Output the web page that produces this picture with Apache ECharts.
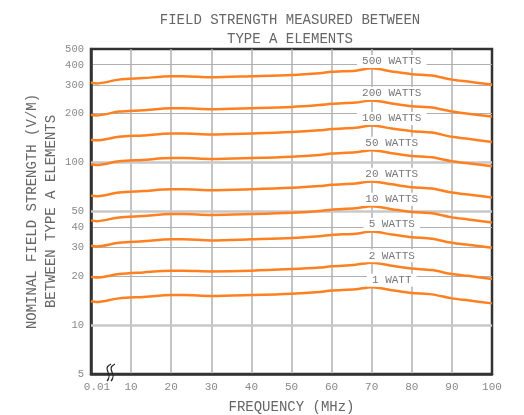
<!DOCTYPE html>
<html><head><meta charset="utf-8">
<script src="https://cdn.jsdelivr.net/npm/echarts@6/dist/echarts.min.js"></script>
<style>html,body{margin:0;padding:0;background:#fff}#c{width:524px;height:415px}</style>
</head><body><div id="c"></div>
<script>
// Frequency points (MHz); x = 0 is labelled "0.01" (broken axis)
const freq = [0, 1.3, 7, 13, 20, 23, 30, 40, 50, 57, 60, 66, 70, 75, 80, 85, 90, 94, 100];
// Field strength (V/M) per transmit power
const w500 = [311, 307, 324, 331, 340, 340, 335, 340, 346, 355, 362, 368, 380, 364, 350, 343, 324, 315, 302];
const w200 = [197, 195, 206, 210, 216, 216, 213, 216, 220, 226, 230, 234, 241, 231, 222, 218, 206, 200, 192];
const w100 = [138, 137, 144, 147, 151, 151, 149, 151, 154, 158, 161, 164, 169, 162, 156, 153, 144, 140, 134];
const w50 = [97.6, 96.5, 101.8, 103.9, 106.6, 106.6, 105.2, 106.6, 108.7, 111.5, 113.6, 115.7, 119.2, 114.3, 109.8, 107.7, 101.8, 99.0, 94.8];
const w20 = [62.7, 62.0, 65.4, 66.8, 68.5, 68.5, 67.6, 68.5, 69.9, 71.7, 73.0, 74.4, 76.6, 73.5, 70.6, 69.2, 65.4, 63.6, 60.9];
const w10 = [44.1, 43.6, 46.0, 46.9, 48.2, 48.2, 47.6, 48.2, 49.1, 50.4, 51.3, 52.3, 53.9, 51.7, 49.6, 48.7, 46.0, 44.7, 42.8];
const w5 = [30.8, 30.5, 32.1, 32.8, 33.7, 33.7, 33.2, 33.7, 34.3, 35.2, 35.9, 36.5, 37.6, 36.1, 34.7, 34.0, 32.1, 31.2, 29.9];
const w2 = [19.8, 19.6, 20.6, 21.1, 21.6, 21.6, 21.4, 21.6, 22.1, 22.6, 23.0, 23.5, 24.2, 23.2, 22.3, 21.8, 20.6, 20.1, 19.2];
const w1 = [14.0, 13.85, 14.6, 14.9, 15.3, 15.3, 15.1, 15.3, 15.6, 16.0, 16.3, 16.6, 17.1, 16.4, 15.75, 15.45, 14.6, 14.2, 13.6];
const seriesNames = ['500 WATTS', '200 WATTS', '100 WATTS', '50 WATTS', '20 WATTS', '10 WATTS', '5 WATTS', '2 WATTS', '1 WATT'];
const seriesValues = [w500, w200, w100, w50, w20, w10, w5, w2, w1];
const yTicks = [5, 10, 20, 30, 40, 50, 100, 200, 300, 400, 500];
const yMajor = [10, 50, 100];
const xTicks = [0, 10, 20, 30, 40, 50, 60, 70, 80, 90, 100];
const xFirstLabel = '0.01';
const labelFreqIndex = 13;

const FONT = 'Liberation Mono';
const ORANGE = '#ff8020';
const chart = echarts.init(document.getElementById('c'), null, {renderer: 'canvas'});

const series = seriesNames.map((name, k) => {
  const vals = seriesValues[k];
  return {
    name, type: 'line', smooth: 0.3, symbol: 'none', z: 3,
    lineStyle: {color: ORANGE, width: 2.5},
    data: freq.map((f, i) => [f, vals[i]]),
    markPoint: {
      silent: true, symbol: 'circle', symbolSize: 0, z: 6,
      data: [{coord: [freq[labelFreqIndex], vals[labelFreqIndex]], value: name}],
      label: {show: true, formatter: name, position: 'inside', offset: [0, -10],
        backgroundColor: '#fff', padding: [1, 5], color: '#777',
        fontFamily: FONT, fontSize: 11}
    }
  };
});
series.push({
  type: 'line', data: [], z: 1, silent: true,
  markLine: {silent: true, z: 1, symbol: ['none', 'none'], label: {show: false},
    lineStyle: {color: '#c8c8c8', width: 2.5, type: 'solid'},
    data: yMajor.map(v => ({yAxis: v}))}
});

chart.setOption({
  animation: false,
  backgroundColor: '#fff',
  title: {
    text: 'FIELD STRENGTH MEASURED BETWEEN\nTYPE A ELEMENTS',
    left: 285, top: 6, textAlign: 'center',
    textStyle: {fontFamily: FONT, fontSize: 14, fontWeight: 'normal', color: '#666', lineHeight: 19}
  },
  grid: {left: 91, right: 32, top: 49, bottom: 41, show: true, borderColor: '#333', borderWidth: 2.5,
    containLabel: false, outerBoundsMode: 'none'},
  xAxis: {
    type: 'value', min: 0, max: 100, interval: 10,
    name: 'FREQUENCY (MHz)', nameLocation: 'middle', nameGap: 26, nameMoveOverlap: false,
    nameTextStyle: {fontFamily: FONT, fontSize: 14, color: '#666'},
    axisLine: {show: true, lineStyle: {color: '#333', width: 2.5}},
    axisTick: {show: false},
    axisLabel: {margin: 8, fontFamily: FONT, fontSize: 11, color: '#888',
      customValues: xTicks,
      formatter: v => v === 0 ? '{a|' + xFirstLabel + '}' : String(v),
      rich: {a: {fontFamily: FONT, fontSize: 11, color: '#888', padding: [0, 0, 0, 12]}}},
    splitLine: {show: true, showMinLine: false, showMaxLine: false, lineStyle: {color: '#b0b0b0', width: 1.5}}
  },
  yAxis: {
    type: 'log', logBase: 10, min: 5, max: 500,
    name: 'NOMINAL FIELD STRENGTH (V/M)\nBETWEEN TYPE A ELEMENTS',
    nameLocation: 'middle', nameRotate: 90, nameGap: 30, nameMoveOverlap: false,
    nameTextStyle: {fontFamily: FONT, fontSize: 14, color: '#666', lineHeight: 19, align: 'center'},
    axisLine: {show: true, lineStyle: {color: '#333', width: 2.5}},
    axisTick: {show: false, customValues: yTicks},
    axisLabel: {margin: 7, fontFamily: FONT, fontSize: 10.5, color: '#888', customValues: yTicks,
      formatter: v => String(Math.round(v))},
    splitLine: {show: true, showMinLine: false, showMaxLine: false, lineStyle: {color: '#b0b0b0', width: 1}}
  },
  graphic: [
    {type: 'bezierCurve', z: 100, shape: {x1: 111, y1: 364, cpx1: 101, cpy1: 369, cpx2: 114, cpy2: 374, x2: 107, y2: 381},
      style: {stroke: '#222', lineWidth: 1.2, fill: null}},
    {type: 'bezierCurve', z: 100, shape: {x1: 115, y1: 364, cpx1: 105, cpy1: 369, cpx2: 118, cpy2: 374, x2: 111, y2: 381},
      style: {stroke: '#222', lineWidth: 1.2, fill: null}}
  ],
  series
});
</script></body></html>
